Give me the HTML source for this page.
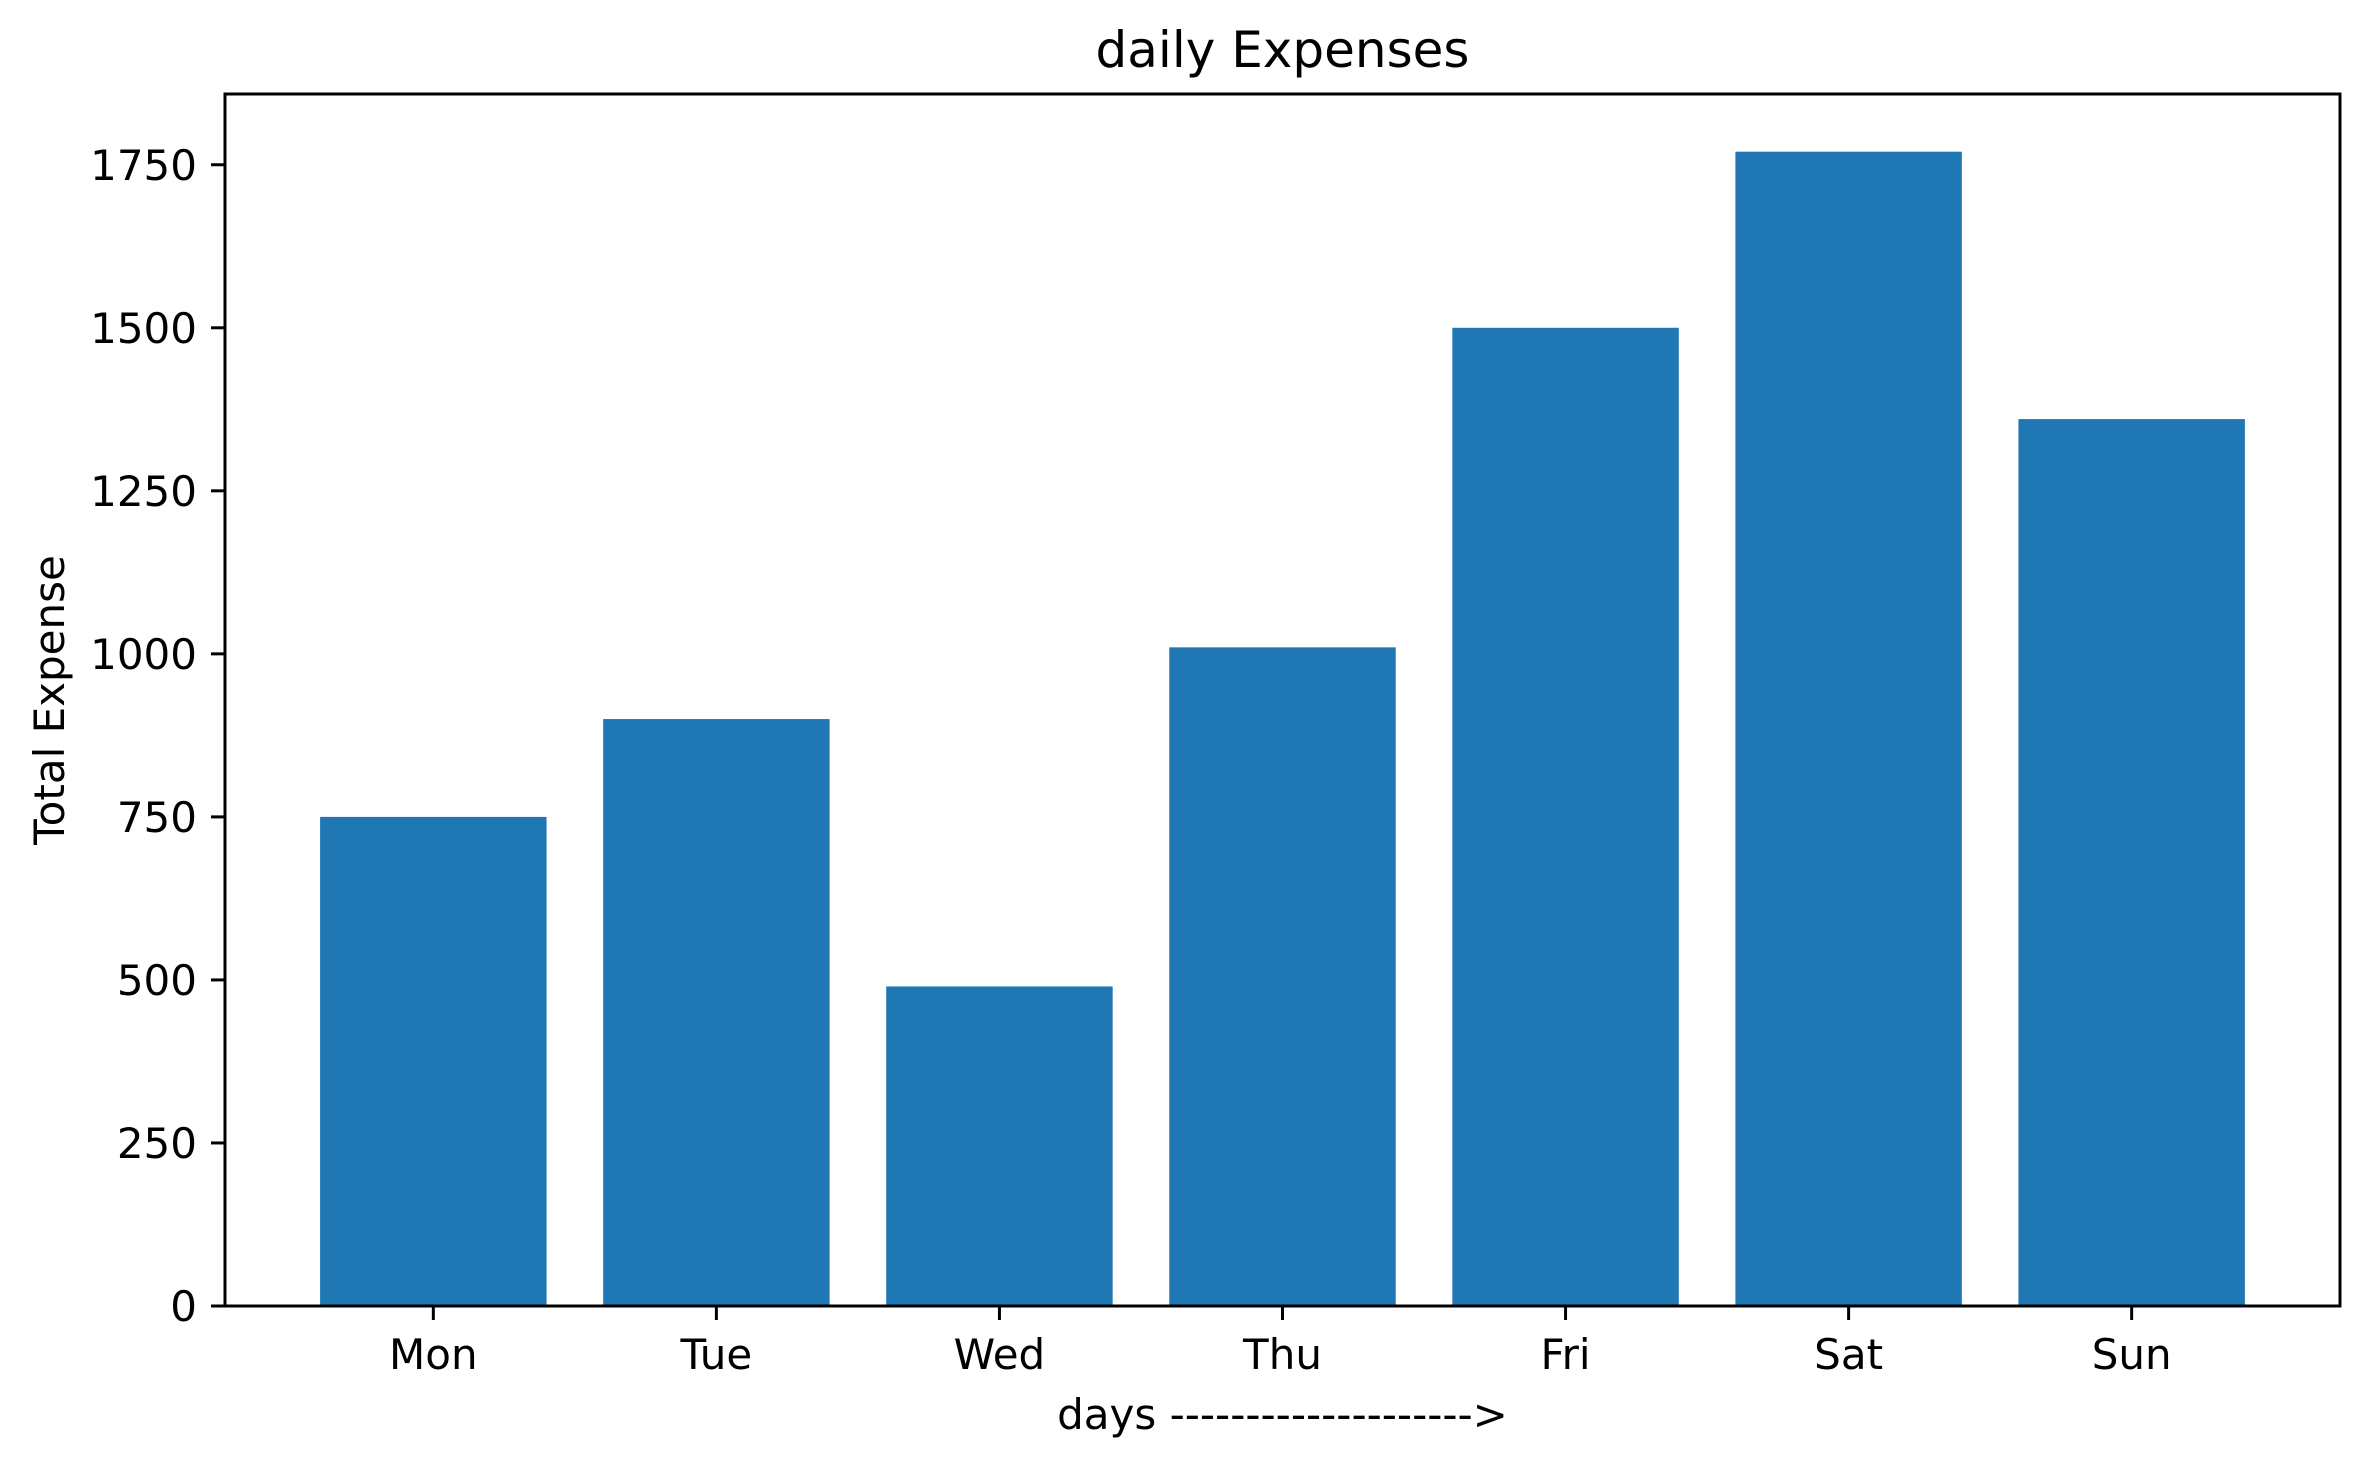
<!DOCTYPE html>
<html><head><meta charset="utf-8"><style>
html,body{margin:0;padding:0;background:#fff;}
svg{display:block;font-family:"DejaVu Sans","Liberation Sans",sans-serif;}
</style></head><body>
<svg id="chart" width="2370" height="1466" viewBox="0 0 2370 1466"></svg>
<script>
const categories = ["Mon","Tue","Wed","Thu","Fri","Sat","Sun"];
const values = [750, 900, 490, 1010, 1500, 1770, 1360];
const yTicks = [0, 250, 500, 750, 1000, 1250, 1500, 1750];
const yTickLabels = ["0","250","500","750","1000","1250","1500","1750"];

const NS = "http://www.w3.org/2000/svg";
const svg = document.getElementById("chart");
const L = 225, R = 2340, T = 94, B = 1306;
const xMin = -0.736, xMax = 6.736;
const yMax = Math.max(...values) * 1.05;
const xs = v => L + (v - xMin) / (xMax - xMin) * (R - L);
const ys = v => B - v / yMax * (B - T);
function mk(tag, attrs){ const e = document.createElementNS(NS, tag); for (const k in attrs) e.setAttribute(k, attrs[k]); svg.appendChild(e); return e; }

values.forEach((v, i) => {
  const w = xs(0.4) - xs(-0.4);
  const r = mk("rect", {x: xs(i - 0.4), y: ys(v), width: w, height: B - ys(v), fill: "#1f77b4"});
  
  
});

const frame = mk("rect", {x: L, y: T, width: R - L, height: B - T, fill: "none", stroke: "#000", "stroke-width": 3});



categories.forEach((c, i) => {
  const x = xs(i);
  const t = mk("line", {x1: x, x2: x, y1: B, y2: B + 14, stroke: "#000", "stroke-width": 3});
  
  
  const tx = mk("text", {x: x, y: 1369, "font-size": 42, "text-anchor": "middle", fill: "#000"});
  tx.textContent = c;
  
  
});

yTicks.forEach((v, i) => {
  const y = ys(v);
  const t = mk("line", {x1: L - 14, x2: L, y1: y, y2: y, stroke: "#000", "stroke-width": 3});
  
  
  const tx = mk("text", {x: 197, y: y + 15, "font-size": 42, "text-anchor": "end", fill: "#000"});
  tx.textContent = yTickLabels[i];
  
  
});

const title = mk("text", {x: (L + R) / 2, y: 67, "font-size": 50, "text-anchor": "middle", fill: "#000"});
title.textContent = "daily Expenses";



const xl = mk("text", {x: (L + R) / 2, y: 1429, "font-size": 42, "text-anchor": "middle", fill: "#000"});
xl.textContent = "days -------------------->";



const yl = mk("text", {x: 0, y: 0, "font-size": 42, "text-anchor": "middle", fill: "#000", transform: "translate(64," + ((T + B) / 2) + ") rotate(-90)"});
yl.textContent = "Total Expense";


</script>
</body></html>
